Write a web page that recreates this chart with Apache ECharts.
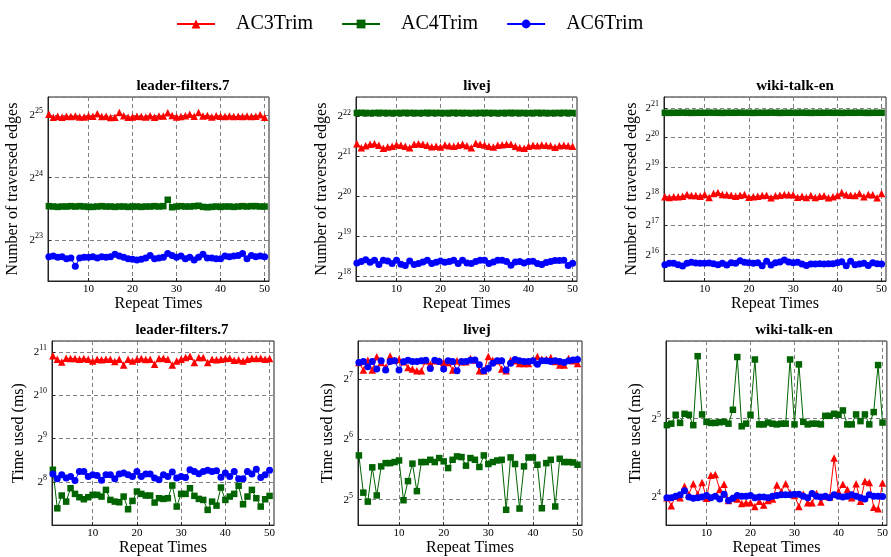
<!DOCTYPE html>
<html><head><meta charset="utf-8">
<script src="https://cdn.jsdelivr.net/npm/echarts@6/dist/echarts.min.js"></script>
<style>html,body{margin:0;padding:0;background:#fff}#c{width:891px;height:557px}</style>
</head><body><div id="c"></div>
<script>
const repeats = [1,2,3,4,5,6,7,8,9,10,11,12,13,14,15,16,17,18,19,20,21,22,23,24,25,26,27,28,29,30,31,32,33,34,35,36,37,38,39,40,41,42,43,44,45,46,47,48,49,50];
const seriesNames = ['AC3Trim','AC4Trim','AC6Trim'];
const panelTitles = ['leader-filters.7','livej','wiki-talk-en','leader-filters.7','livej','wiki-talk-en'];
const xTickValues = [10,20,30,40,50];

// Top row: number of traversed edges
const p1Red = [3.39e7,3.28e7,3.31e7,3.28e7,3.31e7,3.30e7,3.32e7,3.29e7,3.29e7,3.32e7,3.31e7,3.41e7,3.30e7,3.31e7,3.27e7,3.28e7,3.45e7,3.33e7,3.28e7,3.29e7,3.31e7,3.30e7,3.29e7,3.33e7,3.28e7,3.32e7,3.32e7,3.44e7,3.34e7,3.29e7,3.30e7,3.33e7,3.39e7,3.31e7,3.45e7,3.32e7,3.34e7,3.29e7,3.33e7,3.31e7,3.30e7,3.32e7,3.30e7,3.31e7,3.30e7,3.32e7,3.30e7,3.31e7,3.37e7,3.28e7];
const p1Green = [1.225e7,1.22e7,1.215e7,1.22e7,1.22e7,1.225e7,1.22e7,1.225e7,1.22e7,1.215e7,1.215e7,1.22e7,1.225e7,1.22e7,1.22e7,1.215e7,1.22e7,1.22e7,1.215e7,1.22e7,1.22e7,1.215e7,1.22e7,1.22e7,1.225e7,1.22e7,1.225e7,1.315e7,1.21e7,1.22e7,1.225e7,1.22e7,1.22e7,1.225e7,1.23e7,1.215e7,1.21e7,1.215e7,1.22e7,1.215e7,1.22e7,1.22e7,1.215e7,1.22e7,1.225e7,1.22e7,1.225e7,1.225e7,1.22e7,1.22e7];
const p1Blue = [7.0e6,7.05e6,6.95e6,7.0e6,6.85e6,6.9e6,6.3e6,6.9e6,6.95e6,6.95e6,7.0e6,6.9e6,7.0e6,6.95e6,7.0e6,7.2e6,7.05e6,6.95e6,6.85e6,6.8e6,6.75e6,6.8e6,6.9e6,7.1e6,6.85e6,6.9e6,6.95e6,7.25e6,7.1e6,6.95e6,7.05e6,6.85e6,6.95e6,6.75e6,6.95e6,7.2e6,6.9e6,6.9e6,6.85e6,6.85e6,7.05e6,7.0e6,7.05e6,7.1e6,7.25e6,6.85e6,7.1e6,7.0e6,7.05e6,7.0e6];

const p2Red = [2.615e6,2.439e6,2.525e6,2.584e6,2.615e6,2.539e6,2.410e6,2.466e6,2.496e6,2.569e6,2.539e6,2.496e6,2.439e6,2.584e6,2.615e6,2.584e6,2.539e6,2.481e6,2.496e6,2.466e6,2.554e6,2.525e6,2.496e6,2.539e6,2.584e6,2.525e6,2.439e6,2.630e6,2.584e6,2.554e6,2.496e6,2.466e6,2.539e6,2.569e6,2.584e6,2.584e6,2.496e6,2.439e6,2.410e6,2.496e6,2.539e6,2.525e6,2.554e6,2.539e6,2.525e6,2.452e6,2.525e6,2.539e6,2.525e6,2.496e6];
const p2Green = [4.46e6,4.47e6,4.46e6,4.45e6,4.46e6,4.47e6,4.46e6,4.46e6,4.45e6,4.46e6,4.46e6,4.47e6,4.46e6,4.46e6,4.45e6,4.46e6,4.47e6,4.46e6,4.46e6,4.46e6,4.45e6,4.46e6,4.47e6,4.46e6,4.46e6,4.46e6,4.45e6,4.46e6,4.46e6,4.47e6,4.46e6,4.46e6,4.45e6,4.46e6,4.46e6,4.47e6,4.46e6,4.46e6,4.46e6,4.45e6,4.46e6,4.47e6,4.46e6,4.46e6,4.45e6,4.46e6,4.46e6,4.47e6,4.46e6,4.46e6];
const p2Blue = [328400,335800,347500,332000,343600,319300,343600,339700,324800,343600,321000,313900,339700,319300,324800,334000,343600,324800,332000,339700,332000,335800,343600,324800,343600,328400,324800,335800,343600,343600,324800,334000,343600,343600,335800,315600,334000,335800,328400,335800,337800,324800,319300,330000,335800,341600,341600,343600,313900,326600];

const p3Red = [258000,254000,258000,258000,262100,272700,266300,266300,262100,272700,254000,279300,286000,272700,270500,268400,262100,268400,272700,256000,258000,262100,266300,268400,252000,264200,268400,272700,270500,270500,256000,262100,254000,266300,254000,262100,264200,252000,258000,266300,286000,270500,268400,266300,279300,258000,272700,270500,252000,279300];
const p3Green = [1.89e6,1.885e6,1.89e6,1.89e6,1.895e6,1.89e6,1.885e6,1.89e6,1.89e6,1.89e6,1.895e6,1.89e6,1.89e6,1.885e6,1.89e6,1.89e6,1.89e6,1.895e6,1.89e6,1.89e6,1.885e6,1.89e6,1.89e6,1.89e6,1.895e6,1.89e6,1.885e6,1.89e6,1.89e6,1.89e6,1.89e6,1.895e6,1.89e6,1.885e6,1.89e6,1.89e6,1.89e6,1.895e6,1.89e6,1.89e6,1.885e6,1.89e6,1.89e6,1.89e6,1.895e6,1.89e6,1.885e6,1.89e6,1.89e6,1.89e6];
const p3Blue = [51600,53300,53300,51600,50000,53300,54600,53700,53300,53300,53700,52900,51600,53300,51200,54200,53300,56800,54600,54200,53300,54200,50400,55900,51200,54200,55000,57700,55000,54200,54600,52500,50800,52500,52500,52900,52500,52900,52900,54200,55500,50400,55900,51600,52500,53300,50800,54200,52900,52500];

// Bottom row: time used (ms)
const p4Red = [1921,1821,1744,1851,1841,1841,1821,1841,1821,1773,1821,1802,1821,1821,1754,1821,1663,1821,1773,1821,1841,1811,1821,1681,1841,1851,1821,1663,1773,1821,1870,1911,1726,1870,1870,1726,1821,1802,1821,1841,1851,1792,1802,1773,1821,1851,1841,1851,1821,1841];
const p4Green = [312,168.6,206.8,187.7,232.4,212.3,201.3,194.9,201.3,209,209,203.4,226.3,192.8,187.7,185.8,203.4,166.1,189.7,220.4,212.3,206.8,206.8,184.8,198.1,196,198.1,242.7,173.4,212.3,212.3,232.4,205.6,196,192.8,164.4,187.7,176.1,235,192.8,203.4,212.3,241.4,179.9,203.4,226.3,198.1,173.4,194.9,205.6];
const p4Blue = [291,270,288,273,280,263,304,304,280,288,285,264,288,288,270,291,296,288,280,304,280,291,291,273,266,288,280,300.6,273,280,276,312,304,292.6,304,309,304,307,277,296,280,304,270,270,304,291,315,276,288,310];

const p5Red = [154.7,141.8,158.8,141.8,165,154.7,146.1,166.9,158.8,160.7,155.9,146.1,143.4,140.7,140.7,157.6,151.8,157.6,157.6,154.7,154.7,141.8,157.6,155.9,155.9,161.9,159.4,140.7,140.7,165.7,158.8,157.6,143.4,140.7,158.8,157.6,152.9,152.9,152.9,158.8,165.7,160.7,160.7,163.7,156.4,150.1,150.1,161.9,157.6,152.9];
const p5Green = [53.2,34.7,31.3,46.4,33.6,46.9,48.7,48.7,49.3,50.2,31.8,39.6,48.4,35.3,49.3,49.3,50.6,49.3,51.6,49.7,46.0,50.6,52.6,52.2,47.3,51.6,50.6,46.6,53.2,48.2,49.3,50.2,50.6,28.5,52.0,48.2,28.9,46.9,52.0,52.0,47.8,29.0,48.7,50.6,29.6,51.2,49.3,49.3,49.1,47.8];
const p5Blue = [154.7,156.4,147.2,156.4,143.4,157.6,141.8,156.4,157.6,141.8,155.9,158.8,156.4,156.4,157.6,158.8,144.5,158.8,156.4,143.4,157.6,156.4,140.7,156.4,156.4,158.8,159.4,150.7,140.7,145,153.5,157.6,157.6,141.8,153.5,160,157.6,156.4,156.4,157.6,151.8,157.6,157.6,156.4,157.6,156.4,154.7,157.6,159.4,160];

const p6Red = [15.9,14.8,16.1,15.9,17.6,16.4,18.0,16.4,18.2,15.8,19.4,19.5,17.1,17.9,15.5,15.8,15.7,15.1,15.2,15.2,14.7,15.4,14.9,15.5,15.7,17.8,16.8,18.0,16.6,16.2,14.7,16.4,15.2,15.2,16.5,15.3,16.1,16.0,22.6,16.8,17.9,17.1,15.9,18.0,15.4,18.4,18.2,14.6,14.4,18.1];
const p6Green = [30.2,30.6,33.1,30.8,33.4,33.1,30.2,55.6,33.2,31.1,30.8,30.8,31.0,31.1,30.6,34.6,55.2,29.9,30.6,33.1,54.0,30.4,30.4,30.9,30.6,30.4,30.6,30.6,54.0,30.4,51.7,31.1,30.4,30.6,30.6,30.4,32.8,32.8,33.4,33.1,34.4,30.4,30.4,33.2,31.3,33.2,30.4,33.9,51.4,30.9];
const p6Blue = [15.9,15.9,16.1,16.3,16.9,16.0,15.8,15.9,16.0,16.2,15.9,16.1,15.7,16.4,15.5,15.8,16.2,16.1,16.1,16.2,15.9,16.0,16.0,15.9,16.1,16.2,16.3,16.3,16.3,16.4,16.4,16.1,15.9,16.5,16.1,16.0,16.1,15.9,16.3,16.1,16.0,16.1,16.3,16.1,15.9,15.7,16.3,16.1,16.1,16.05];

const panelData = [
  [p1Red,p1Green,p1Blue],[p2Red,p2Green,p2Blue],[p3Red,p3Green,p3Blue],
  [p4Red,p4Green,p4Blue],[p5Red,p5Green,p5Blue],[p6Red,p6Green,p6Blue]
];
const yMin = [5.35e6, 239600, 35100, 129, 23.9, 12.47];
const yMax = [4.10e7, 5.89e6, 2.748e6, 2435, 198, 63.6];
const yNames = ['Number of traversed edges','Number of traversed edges','Number of traversed edges','Time used (ms)','Time used (ms)','Time used (ms)'];

const F = 'Liberation Serif';
const colors = ['#ff0000','#006400','#0000ff'];
const symbols = ['triangle','rect','circle'];
const symSizes = [7.5,6.5,7];

const grids = [
  {left:48, top:97, width:221, height:184},
  {left:356, top:97, width:221, height:184},
  {left:664, top:97, width:222, height:184},
  {left:52, top:341, width:222, height:186},
  {left:358, top:341, width:224, height:186},
  {left:666, top:341, width:223, height:186}
];
const titlePos = [[178,74],[472,74],[790,74],[177,318],[472,318],[789,318]];
const yNameGap = [27,26,24,25,22,22];

function powLabel(v){
  const e = Math.log2(v); const r = Math.round(e);
  if (Math.abs(e - r) > 1e-6) return '';
  return '{b|2}{s|' + r + '}';
}
const gridLine = {show:true, lineStyle:{color:'#808080', type:[4,3], width:1}};

const option = {
  animation:false,
  backgroundColor:'#fff',
  legend:{
    data:seriesNames, left:171, top:9, itemWidth:38, itemHeight:11, itemGap:28,
    textStyle:{fontFamily:F, fontSize:20, color:'#000', padding:[0,0,0,16]}
  },
  title: panelTitles.map((t,i)=>({text:t, left:titlePos[i][0], top:titlePos[i][1], textAlign:'center',
    textStyle:{fontFamily:F, fontWeight:'bold', fontSize:15, color:'#000'}})),
  grid: grids.map(g=>Object.assign({show:true, borderColor:'#222', borderWidth:1, containLabel:false}, g)),
  xAxis: grids.map((g,i)=>({
    gridIndex:i, type:'value', min:0.8, max:51,
    name:'Repeat Times', nameLocation:'middle', nameGap:13,
    nameTextStyle:{fontFamily:F, fontSize:16, color:'#000'},
    axisLine:{show:true, lineStyle:{color:'#222'}},
    axisTick:{show:true, inside:true, length:3, customValues:xTickValues, lineStyle:{color:'#222'}},
    axisLabel:{customValues:xTickValues, fontFamily:F, fontSize:11, color:'#000', margin:3},
    splitLine:gridLine
  })),
  yAxis: grids.map((g,i)=>({
    gridIndex:i, type:'log', logBase:2, min:yMin[i], max:yMax[i],
    name:yNames[i], nameLocation:'middle', nameGap:yNameGap[i],
    nameTextStyle:{fontFamily:F, fontSize:16, color:'#000'},
    axisLine:{show:true, lineStyle:{color:'#222'}},
    axisTick:{show:true, inside:true, length:3, lineStyle:{color:'#222'}},
    axisLabel:{formatter:powLabel, showMinLabel:false, showMaxLabel:false, margin:5,
      rich:{ b:{fontFamily:F, fontSize:11, color:'#000', lineHeight:16},
             s:{fontFamily:F, fontSize:8, color:'#000', lineHeight:8, verticalAlign:'top'} }},
    splitLine:gridLine
  })),
  series: []
};
panelData.forEach((arrs,g)=>{
  arrs.forEach((ys,k)=>{
    option.series.push({
      name:seriesNames[k], type:'line', xAxisIndex:g, yAxisIndex:g,
      data: repeats.map((x,i)=>[x, ys[i]]),
      symbol:symbols[k], symbolSize:symSizes[k], showSymbol:true,
      lineStyle:{width:1, color:colors[k]}, itemStyle:{color:colors[k]},
      emphasis:{disabled:true}
    });
  });
});
const chart = echarts.init(document.getElementById('c'), null, {renderer:'canvas'});
chart.setOption(option);
</script>
</body></html>
